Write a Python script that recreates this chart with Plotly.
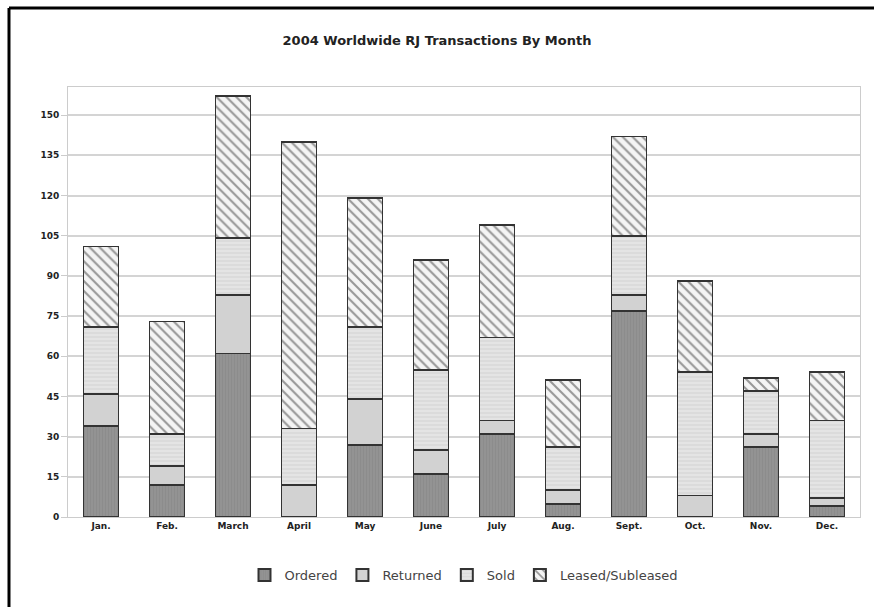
import plotly.graph_objects as go

months = ["Jan.", "Feb.", "March", "April", "May", "June", "July", "Aug.", "Sept.", "Oct.", "Nov.", "Dec."]
ordered = [34, 12, 61, 0, 27, 16, 31, 5, 77, 0, 26, 4]
returned = [12, 7, 22, 12, 17, 9, 5, 5, 6, 8, 5, 3]
sold = [25, 12, 21, 21, 27, 30, 31, 16, 22, 46, 16, 29]
leased = [30, 42, 53, 107, 48, 41, 42, 25, 37, 34, 5, 18]
y_ticks = [0, 15, 30, 45, 60, 75, 90, 105, 120, 135, 150]

line = dict(color="#333333", width=1.8)
fig = go.Figure()
fig.add_bar(x=months, y=ordered, name="Ordered",
            marker=dict(color="#8e8e8e", line=line,
                        pattern=dict(shape="|", fgcolor="#838383", bgcolor="#939393", size=3, solidity=0.3)))
fig.add_bar(x=months, y=returned, name="Returned",
            marker=dict(color="#d2d2d2", line=line))
fig.add_bar(x=months, y=sold, name="Sold",
            marker=dict(color="#e4e4e4", line=line,
                        pattern=dict(shape="-", fgcolor="#c6c6c6", bgcolor="#e4e4e4", size=4, solidity=0.3)))
fig.add_bar(x=months, y=leased, name="Leased/Subleased",
            marker=dict(color="#ffffff", line=line,
                        pattern=dict(shape="\\", fgcolor="#3a3a3a", bgcolor="#f4f4f4", size=7, solidity=0.3)))

fig.update_layout(
    width=874, height=607,
    barmode="stack", bargap=0.47,
    paper_bgcolor="white", plot_bgcolor="white",
    margin=dict(l=68, r=14, t=87, b=90),
    font=dict(family="DejaVu Sans", color="#333333"),
    title=dict(text="<b>2004 Worldwide RJ Transactions By Month</b>", x=0.5, xanchor="center",
               y=1 - 40 / 607, yanchor="middle", font=dict(size=13, color="#222222")),
    showlegend=True,
    legend=dict(orientation="h", x=0.5, xanchor="center", y=-0.135, yanchor="middle",
                font=dict(size=13, color="#444444"), itemwidth=30, traceorder="normal",
                tracegroupgap=0, itemsizing="constant"),
    xaxis=dict(showgrid=False, showline=True, linecolor="#cccccc", mirror=True,
               ticks="", tickfont=dict(size=9, color="#222222", weight="bold"), fixedrange=True),
    yaxis=dict(range=[0, 160.5], tickvals=y_ticks, showgrid=True, gridcolor="#d4d4d4", gridwidth=1.5,
               showline=True, linecolor="#cccccc", mirror=True, ticks="outside", ticklen=6,
               tickcolor="#cccccc", tickfont=dict(size=9, color="#222222", weight="bold"),
               zeroline=False, fixedrange=True),
    shapes=[
        dict(type="line", xref="paper", yref="paper", x0=-0.0745, x1=-0.0745, y0=-0.3, y1=1.1837,
             line=dict(color="black", width=3)),
        dict(type="line", xref="paper", yref="paper", x0=-0.0745, x1=1.1, y0=1.1837, y1=1.1837,
             line=dict(color="black", width=3)),
    ],
)

fig.write_html("out.html", config={"displayModeBar": False},
               post_script="document.body.style.margin='0';document.body.style.overflow='hidden';")
